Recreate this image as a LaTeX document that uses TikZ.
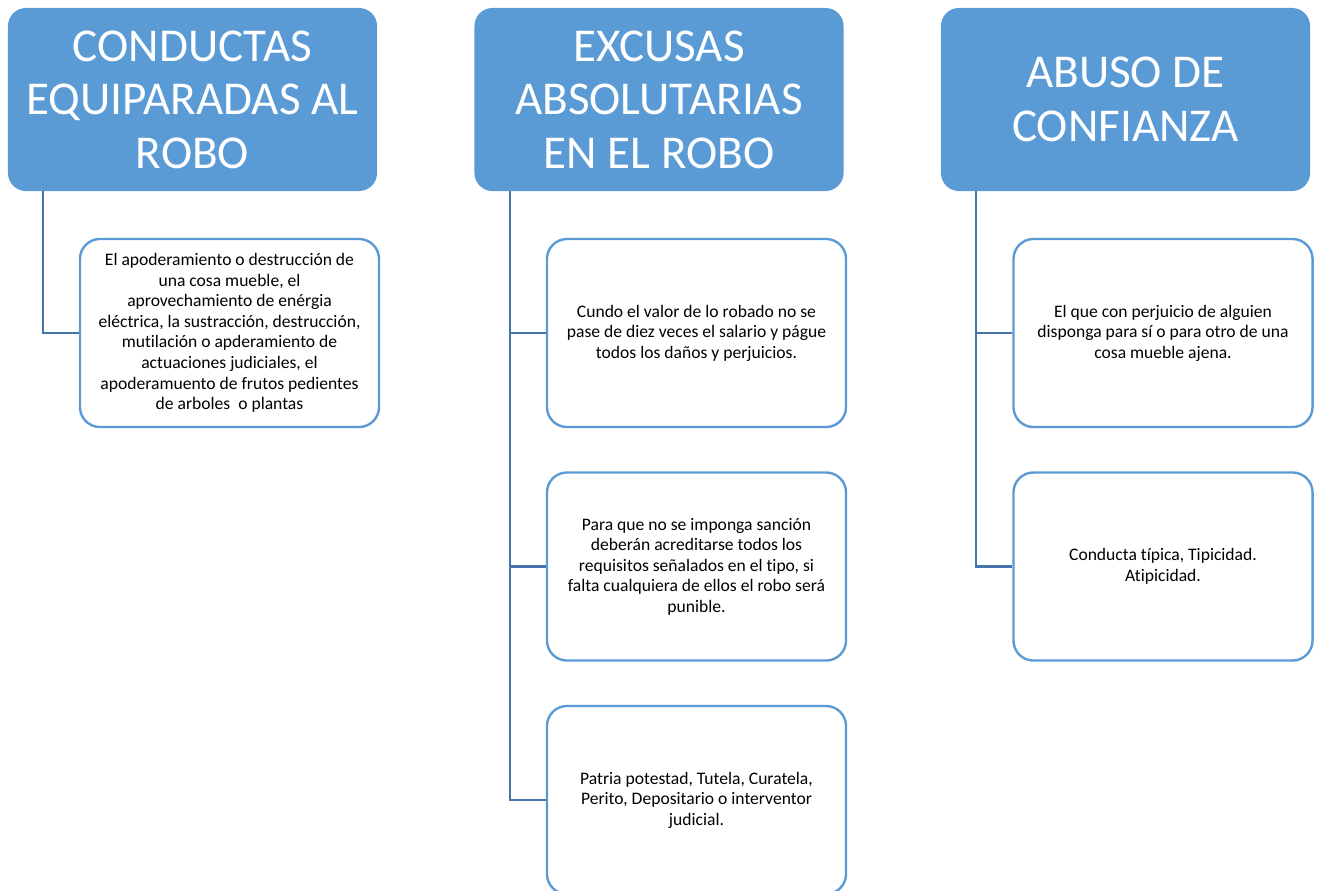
\documentclass[tikz,border=0pt]{standalone}
\usepackage{fontspec}
\setmainfont[Ligatures=NoCommon]{Carlito}
\definecolor{headblue}{HTML}{5B9BD5}
\definecolor{linkblue}{HTML}{4675AD}
\begin{document}
\begin{tikzpicture}[x=0.025cm, y=-0.025cm,
  head/.style={fill=headblue, rounded corners=0.45cm, minimum width=9.225cm,
    minimum height=4.575cm, text=white, align=center, inner sep=0pt,
    font=\fontsize{33.5}{38}\selectfont},
  item/.style={draw=headblue, line width=1.7pt, fill=white, rounded corners=0.5cm,
    minimum width=7.475cm, minimum height=4.7cm, align=center, inner sep=0pt,
    font=\fontsize{12.5}{14.6}\selectfont},
  link/.style={draw=linkblue, line width=1.6pt}]
\useasboundingbox (0,0) rectangle (1320,890);

\node (h1) at (192.5, 99.5) [head] {CONDUCTAS\\EQUIPARADAS AL\\ROBO};
\node (h2) at (659, 99.5) [head] {EXCUSAS\\ABSOLUTARIAS\\EN EL ROBO};
\node (h3) at (1125.5, 99.5) [head] {ABUSO DE\\CONFIANZA};

\node (c1) at (229.5, 333) [item] {El apoderamiento o destrucción de\\una cosa mueble, el\\aprovechamiento de enérgia\\eléctrica, la sustracción, destrucción,\\mutilación o apderamiento de\\actuaciones judiciales, el\\apoderamuento de frutos pedientes\\de arboles\ \ o plantas};
\node (e1) at (696.5, 333) [item] {Cundo el valor de lo robado no se\\pase de diez veces el salario y págue\\todos los daños y perjuicios.};
\node (e2) at (696.5, 566.5) [item] {Para que no se imponga sanción\\deberán acreditarse todos los\\requisitos señalados en el tipo, si\\falta cualquiera de ellos el robo será\\punible.};
\node (e3) at (696.5, 800) [item] {Patria potestad, Tutela, Curatela,\\Perito, Depositario o interventor\\judicial.};
\node (a1) at (1163, 333) [item] {El que con perjuicio de alguien\\disponga para sí o para otro de una\\cosa mueble ajena.};
\node (a2) at (1163, 566.5) [item] {Conducta típica, Tipicidad.\\Atipicidad.};

\draw [link] (h1.south -| 43,0) |- (c1.west);
\draw [link] (h2.south -| 510,0) |- (e1.west);
\draw [link] (h2.south -| 510,0) |- (e2.west);
\draw [link] (h2.south -| 510,0) |- (e3.west);
\draw [link] (h3.south -| 976,0) |- (a1.west);
\draw [link] (h3.south -| 976,0) |- (a2.west);
\end{tikzpicture}
\end{document}
